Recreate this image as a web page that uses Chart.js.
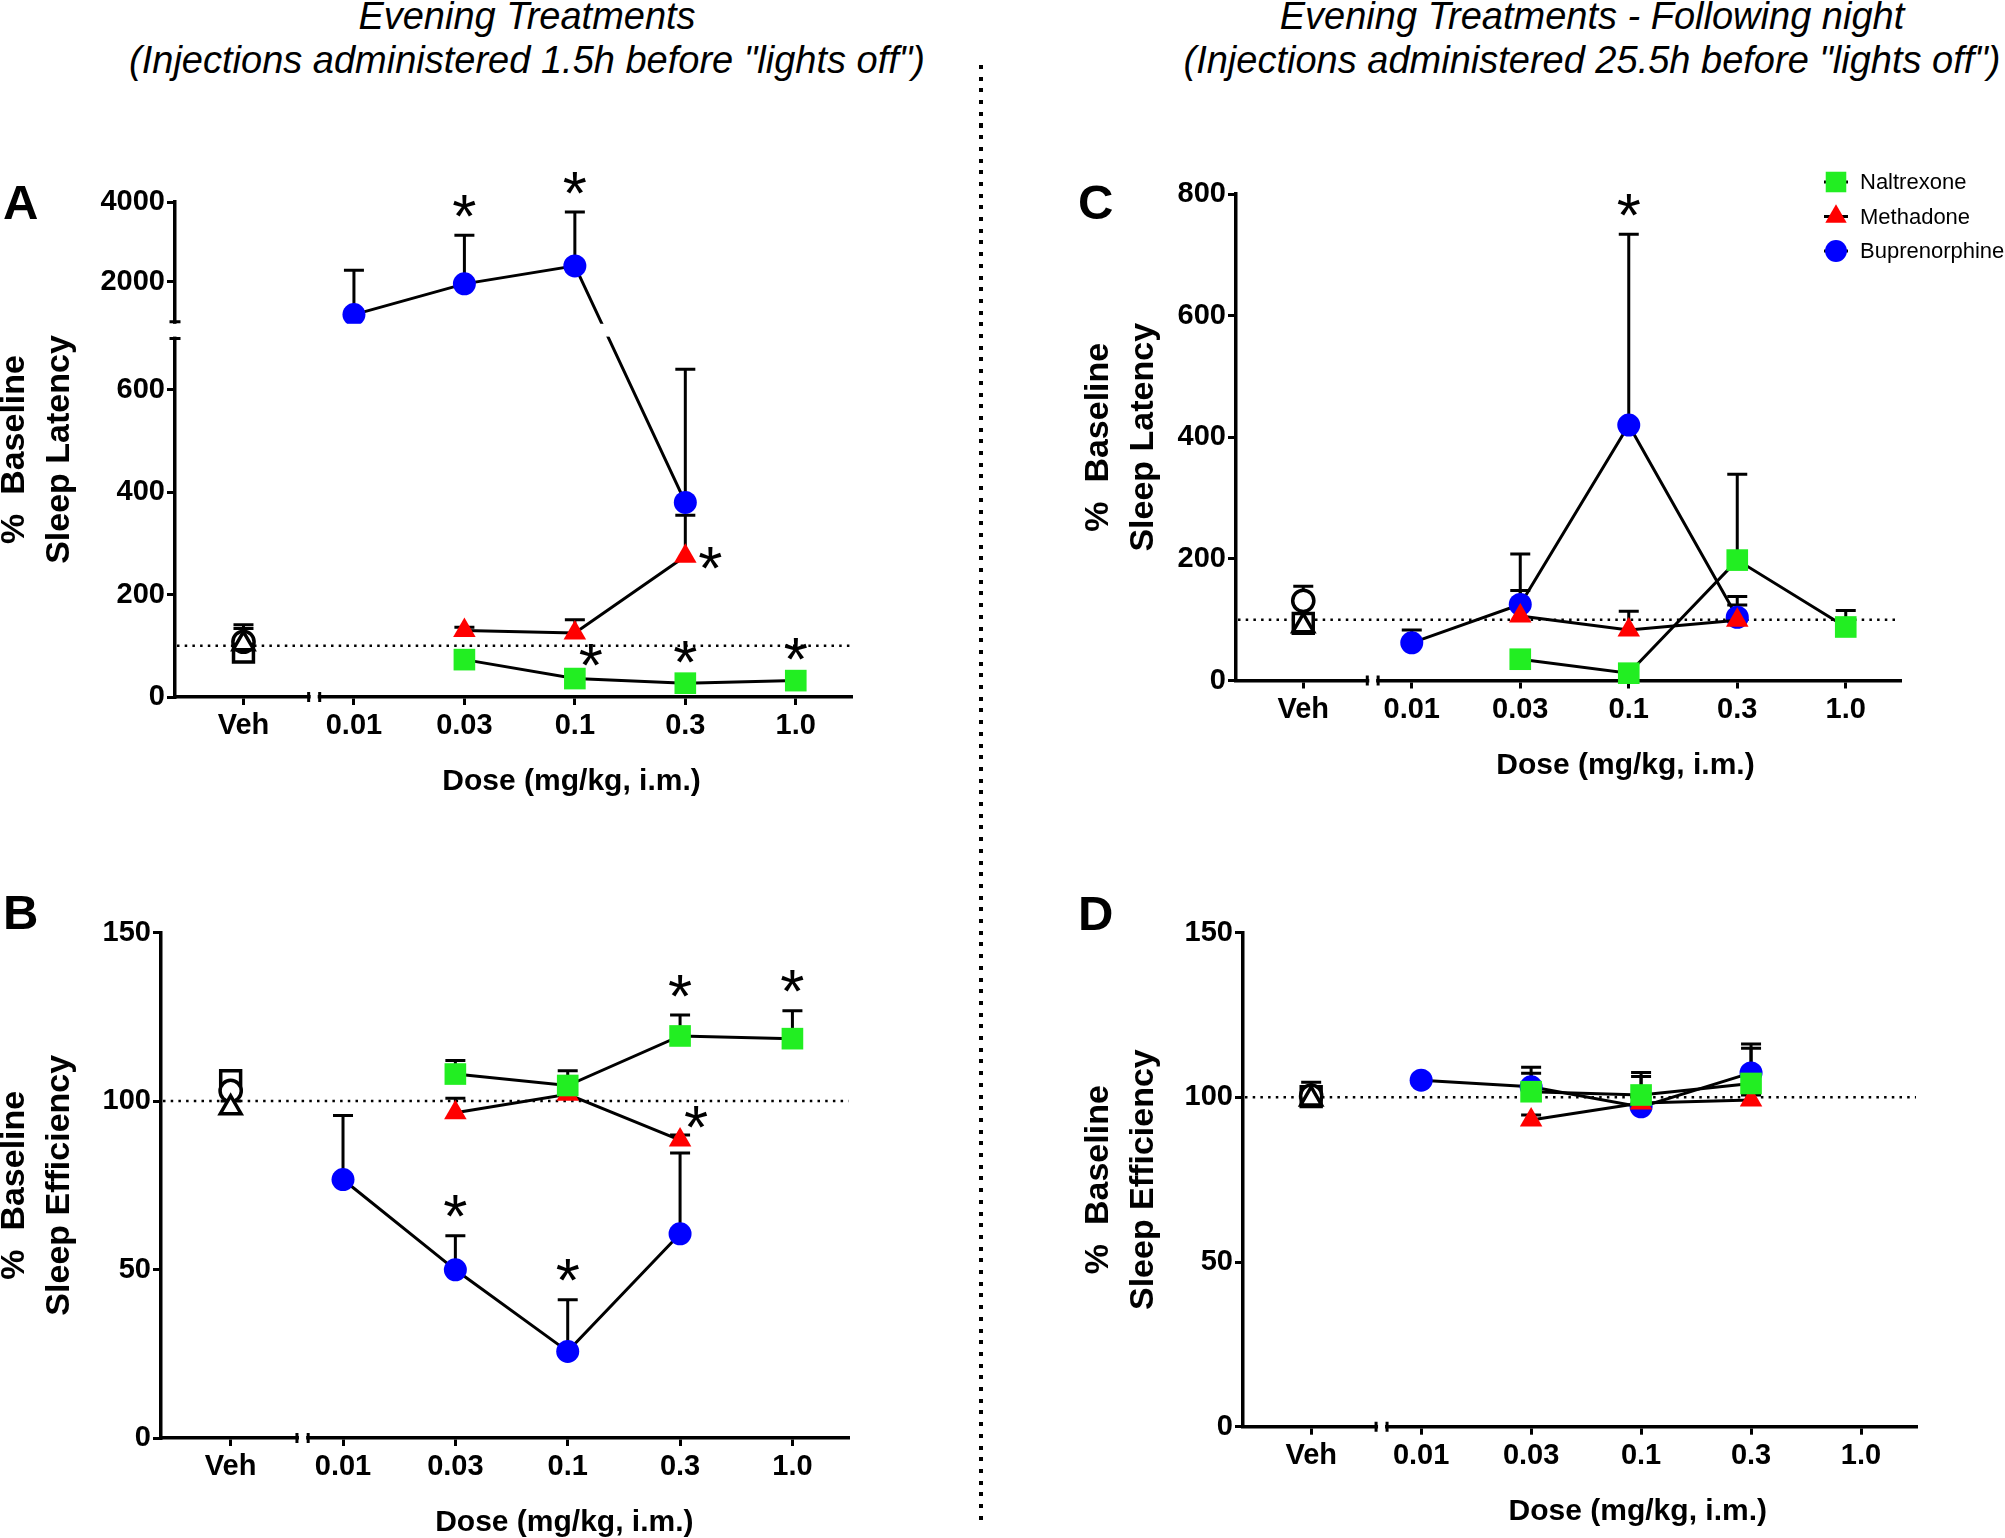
<!DOCTYPE html>
<html>
<head>
<meta charset="utf-8">
<script src="https://cdn.jsdelivr.net/npm/chart.js@4.4.1/dist/chart.umd.min.js"></script>
<style>
html, body { margin: 0; padding: 0; background: #fff; }
#page { position: relative; width: 2005px; height: 1538px; overflow: hidden; background: #fff;
        font-family: "Liberation Sans", Arial, sans-serif; color: #000; }
canvas { position: absolute; }
.head { position: absolute; font-style: italic; font-size: 38px; line-height: 38px; white-space: nowrap; transform: translateX(-50%); }
.letter { position: absolute; font-weight: bold; font-size: 49px; line-height: 49px; }
#divider { position: absolute; left: 979px; top: 65px; width: 4px; height: 1462px;
           background: repeating-linear-gradient(to bottom, #000 0 4px, transparent 4px 11.7px); }
</style>
</head>
<body>
<div id="page">
  <div class="head" style="left:527px; top:-3px;">Evening Treatments</div>
  <div class="head" style="left:527px; top:41px;">(Injections administered 1.5h before "lights off")</div>
  <div class="head" style="left:1592px; top:-3px;">Evening Treatments - Following night</div>
  <div class="head" style="left:1592px; top:41px;">(Injections administered 25.5h before "lights off")</div>
  <div id="divider"></div>

  <canvas id="chartA" width="990" height="720" style="left:-10px; top:100px;"></canvas>
  <canvas id="chartB" width="990" height="708" style="left:-10px; top:830px;"></canvas>
  <canvas id="chartC" width="931" height="720" style="left:1074px; top:100px;"></canvas>
  <canvas id="chartD" width="931" height="708" style="left:1074px; top:830px;"></canvas>

  <div class="letter" style="left:3px; top:178px;">A</div>
  <div class="letter" style="left:3px; top:888px;">B</div>
  <div class="letter" style="left:1078px; top:178px;">C</div>
  <div class="letter" style="left:1078px; top:889px;">D</div>
</div>

<script>
// x categories (Veh + doses in mg/kg)
const doseLabels = ['Veh', '0.01', '0.03', '0.1', '0.3', '1.0'];
const drugNames = ['Naltrexone', 'Methadone', 'Buprenorphine'];

// A: % baseline sleep latency, evening treatments
const latA_nal = [null, null, 73, 36, 27, 32];
const latA_nalSem = [null, null, 5, 4, 4, 4];
const latA_met = [null, null, 130, 125, 275, null];
const latA_metSem = [null, null, 6, 26, 80, null];
const latA_bup = [null, 1180, 1950, 2400, 380, null];
const latA_bupSem = [null, 1110, 1220, 1350, 260, null];
const latA_veh = [88, 104, 108];        // naltrexone, methadone, buprenorphine vehicles
const latA_vehSem = [12, 30, 33];
const latA_ticks = [0, 200, 400, 600, 2000, 4000];

// B: % baseline sleep efficiency, evening treatments
const effB_nal = [null, null, 108, 104.6, 119.3, 118.5];
const effB_nalSem = [null, null, 4, 4.4, 6.2, 8.3];
const effB_met = [null, null, 96.5, 102, 88.4, null];
const effB_metSem = [null, null, 4.3, 1.5, 1.5, null];
const effB_bup = [null, 76.7, 49.9, 25.7, 60.6, null];
const effB_bupSem = [null, 19, 10.1, 15.3, 24, null];
const effB_veh = [106, 98, 103];
const effB_vehSem = [2, 2, 2];

// C: % baseline sleep latency, following night
const latC_nal = [null, null, 35, 12, 198, 88];
const latC_nalSem = [null, null, 3, 3, 141, 27];
const latC_met = [null, null, 106, 83, 99, null];
const latC_metSem = [null, null, 42, 31, 25, null];
const latC_bup = [null, 62, 125, 420, 104, null];
const latC_bupSem = [null, 21, 83, 314, 34, null];
const latC_veh = [94, 90, 131];
const latC_vehSem = [6, 8, 24];
const latC_ticks = [0, 200, 400, 600, 800];

// D: % baseline sleep efficiency, following night
const effD_nal = [null, null, 101.7, 100.7, 104.2, null];
const effD_nalSem = [null, null, 5.6, 5.6, 10.7, null];
const effD_met = [null, null, 93.1, 98.3, 99.2, null];
const effD_metSem = [null, null, 1.5, 1.5, 1.5, null];
const effD_bup = [null, 105.2, 103.2, 97.1, 107.4, null];
const effD_bupSem = [null, 1, 5.9, 10.4, 8.8, null];
const effD_veh = [100.2, 99.5, 100.5];
const effD_vehSem = [4.4, 2, 2];
const eff_ticks = [0, 50, 100, 150];

// significance stars: [drug index, dose index, placement]
const sigA = [[2, 2, 'above'], [2, 3, 'above'], [1, 4, 'right'], [0, 3, 'upright'], [0, 4, 'above'], [0, 5, 'above']];
const sigB = [[2, 2, 'above'], [2, 3, 'above'], [0, 4, 'above'], [0, 5, 'above'], [1, 4, 'upright']];
const sigC = [[2, 3, 'above']];
const sigD = [];

const FONT = "'Liberation Sans', Arial, sans-serif";
const drugStyle = [
    { color: '#22ee22', pointStyle: 'rect', radius: 15.3 },
    { color: '#ff0000', pointStyle: 'triangle', radius: 13 },
    { color: '#0000ff', pointStyle: 'circle', radius: 11.5 }
];

// y axis with a gap (used by panel A)
class BrokenScale extends Chart.LinearScale {
    static id = 'broken';
    _seg() {
        const b = this.options.brk;
        const h = this.bottom - this.top;
        const lowH = h * b.lowFrac, gapH = h * b.gapFrac;
        return { b, lowH, gapH, highH: h - lowH - gapH };
    }
    getPixelForValue(value) {
        const { b, lowH, gapH, highH } = this._seg();
        if (value <= b.lowMax) return this.bottom - (value - this.min) / (b.lowMax - this.min) * lowH;
        if (value >= b.highMin) return this.top + (this.max - value) / (this.max - b.highMin) * highH;
        return this.bottom - lowH - (value - b.lowMax) / (b.highMin - b.lowMax) * gapH;
    }
    getValueForPixel(pixel) {
        const { b, lowH, gapH, highH } = this._seg();
        const yLow = this.bottom - lowH, yHigh = this.top + highH;
        if (pixel >= yLow) return this.min + (this.bottom - pixel) / lowH * (b.lowMax - this.min);
        if (pixel <= yHigh) return this.max - (pixel - this.top) / highH * (this.max - b.highMin);
        return b.lowMax + (yLow - pixel) / gapH * (b.highMin - b.lowMax);
    }
}
Chart.register(BrokenScale);

const panelExtras = {
    id: 'panelExtras',
    beforeDatasetsDraw(chart, args, o) {
        const { ctx, chartArea: ca, scales: { x, y } } = chart;
        // dotted 100% baseline
        ctx.save();
        ctx.strokeStyle = '#000';
        ctx.lineWidth = 2.5;
        ctx.setLineDash([2.5, 5.2]);
        const py = y.getPixelForValue(100);
        ctx.beginPath();
        ctx.moveTo(ca.left + 2, py);
        ctx.lineTo(ca.right, py);
        ctx.stroke();
        ctx.restore();

        // SEM bars (upper only)
        ctx.save();
        ctx.strokeStyle = '#000';
        ctx.lineWidth = 3;
        chart.data.datasets.forEach(ds => {
            ds.data.forEach(pt => {
                if (pt.sem == null) return;
                const px = x.getPixelForValue(pt.x);
                const p0 = y.getPixelForValue(pt.y);
                const p1 = y.getPixelForValue(pt.y + pt.sem);
                ctx.beginPath();
                ctx.moveTo(px, p0);
                ctx.lineTo(px, p1);
                ctx.moveTo(px - 10, p1);
                ctx.lineTo(px + 10, p1);
                ctx.stroke();
            });
        });
        ctx.restore();
    },
    afterDatasetsDraw(chart, args, o) {
        const { ctx, chartArea: ca, scales: { x, y } } = chart;
        ctx.save();
        ctx.strokeStyle = '#000';
        ctx.lineWidth = 3;

        // x axis break between Veh and doses
        const xb1 = x.getPixelForValue(o.xBreak[0]);
        const xb2 = x.getPixelForValue(o.xBreak[1]);
        ctx.fillStyle = '#fff';
        ctx.fillRect(xb1 + 2, ca.bottom - 6, xb2 - xb1 - 4, 12);
        ctx.beginPath();
        [xb1, xb2].forEach(bx => {
            ctx.moveTo(bx, ca.bottom - 5);
            ctx.lineTo(bx, ca.bottom + 5);
        });
        ctx.stroke();

        // y axis break
        if (o.yBreak) {
            const pLo = y.getPixelForValue(o.yBreak[0]);
            const pHi = y.getPixelForValue(o.yBreak[1]);
            ctx.fillStyle = '#fff';
            ctx.fillRect(ca.left - 8, pHi + 2, ca.right - ca.left + 16, pLo - pHi - 4);
            ctx.beginPath();
            [pLo, pHi].forEach(by => {
                ctx.moveTo(ca.left - 5.5, by);
                ctx.lineTo(ca.left + 5.5, by);
            });
            ctx.stroke();
        }

        // significance stars
        const starSize = 62;
        ctx.fillStyle = '#000';
        ctx.font = starSize + 'px ' + FONT;
        ctx.textAlign = 'center';
        ctx.textBaseline = 'alphabetic';
        o.sig.forEach(([di, xi, place]) => {
            const pt = chart.data.datasets[di].data.find(p => p.x === xi);
            if (!pt) return;
            const px = x.getPixelForValue(pt.x);
            const py = y.getPixelForValue(pt.y);
            const pTop = y.getPixelForValue(pt.y + (pt.sem || 0));
            let cx = px, cy;
            if (place === 'above') cy = Math.min(py, pTop) - 34;
            else if (place === 'right') { cx = px + 25; cy = py - 3; }
            else { cx = px + 16; cy = py - 28; }
            ctx.fillText('*', cx, cy + 0.575 * starSize);
        });

        // x axis title
        ctx.font = 'bold 30px ' + FONT;
        ctx.textBaseline = 'middle';
        ctx.fillText('Dose (mg/kg, i.m.)', x.getPixelForValue(2.97), ca.bottom + 85);

        // legend
        if (o.legend) {
            const lx = ca.right - 64;
            let ly = ca.top - 12;
            ctx.font = '22px ' + FONT;
            ctx.textAlign = 'left';
            drugNames.forEach((name, i) => {
                const st = drugStyle[i];
                ctx.beginPath();
                ctx.moveTo(lx - 12, ly);
                ctx.lineTo(lx + 12, ly);
                ctx.stroke();
                ctx.fillStyle = st.color;
                Chart.helpers.drawPoint(ctx, { pointStyle: st.pointStyle, radius: st.radius * 0.95, rotation: 0, borderWidth: 0 }, lx, ly);
                ctx.fillStyle = '#000';
                ctx.fillText(name, lx + 24, ly + 1);
                ly += 34.5;
            });
        }
        ctx.restore();
    }
};

const withSem = (vals, sem) => vals
    .map((v, i) => (v == null ? null : { x: i, y: v, sem: sem[i] }))
    .filter(p => p !== null);

function buildPanel(id, p) {
    const drugSets = p.series.map((s, i) => ({
        label: drugNames[i],
        data: withSem(s[0], s[1]),
        borderColor: '#000',
        borderWidth: 3,
        tension: 0,
        pointStyle: drugStyle[i].pointStyle,
        pointRadius: drugStyle[i].radius,
        pointBackgroundColor: drugStyle[i].color,
        pointBorderWidth: 0,
        clip: false
    }));
    // vehicle points: methadone on top, then buprenorphine, then naltrexone
    const vehSets = [1, 2, 0].map(i => ({
        label: drugNames[i] + ' vehicle',
        data: [{ x: 0, y: p.veh[i], sem: p.vehSem[i] }],
        showLine: false,
        pointStyle: drugStyle[i].pointStyle,
        pointRadius: drugStyle[i].radius * 0.92,
        pointBackgroundColor: '#fff',
        pointBorderColor: '#000',
        pointBorderWidth: 3.5,
        clip: false
    }));

    const tickFont = { family: FONT, weight: 'bold', size: 29 };
    const yScale = {
        type: p.yType || 'linear',
        min: p.yMin,
        max: p.yMax,
        afterBuildTicks: s => { s.ticks = p.yTicks.map(v => ({ value: v })); },
        afterFit: s => { s.width = p.area.left - p.box.left; },
        grid: { drawOnChartArea: false, drawTicks: true, tickLength: 8, color: '#000', lineWidth: 3 },
        border: { display: true, color: '#000', width: 3.5 },
        ticks: { autoSkip: false, padding: 2, color: '#000', font: tickFont, callback: v => String(v) },
        title: {
            display: true,
            text: ['%  Baseline', p.yTitle],
            color: '#000',
            font: { family: FONT, weight: 'bold', size: 34, lineHeight: 1.3 },
            padding: { top: 3, bottom: 0 }
        }
    };
    if (p.brk) yScale.brk = p.brk;

    new Chart(document.getElementById(id), {
        type: 'line',
        data: { datasets: drugSets.concat(vehSets) },
        options: {
            responsive: false,
            animation: false,
            events: [],
            layout: {
                padding: {
                    left: 0,
                    top: p.area.top - p.box.top,
                    right: p.box.left + p.box.w - p.area.right,
                    bottom: 0
                }
            },
            plugins: {
                legend: { display: false },
                tooltip: { enabled: false },
                panelExtras: { xBreak: [0.59, 0.69], yBreak: p.yBreak, sig: p.sig, legend: !!p.legend }
            },
            scales: {
                x: {
                    type: 'linear',
                    min: -0.62,
                    max: 5.5,
                    afterBuildTicks: s => { s.ticks = doseLabels.map((_, i) => ({ value: i })); },
                    afterFit: s => { s.height = p.box.top + p.box.h - p.area.bottom; },
                    grid: { drawOnChartArea: false, drawTicks: true, tickLength: 8, color: '#000', lineWidth: 3 },
                    border: { display: true, color: '#000', width: 3.5 },
                    ticks: { autoSkip: false, maxRotation: 0, padding: 4, color: '#000', font: tickFont,
                             callback: v => doseLabels[v] }
                },
                y: yScale
            }
        },
        plugins: [panelExtras]
    });
}

buildPanel('chartA', {
    box: { left: -10, top: 100, w: 990, h: 720 },
    area: { left: 175, top: 202, right: 851, bottom: 697 },
    yType: 'broken', yMin: 0, yMax: 4000, yTicks: latA_ticks,
    brk: { lowMax: 700, highMin: 1000, lowFrac: 0.724, gapFrac: 0.034 },
    yBreak: [700, 1000],
    yTitle: 'Sleep Latency',
    series: [[latA_nal, latA_nalSem], [latA_met, latA_metSem], [latA_bup, latA_bupSem]],
    veh: latA_veh, vehSem: latA_vehSem, sig: sigA
});

buildPanel('chartB', {
    box: { left: -10, top: 830, w: 990, h: 708 },
    area: { left: 161, top: 932.5, right: 848.6, bottom: 1438 },
    yMin: 0, yMax: 150, yTicks: eff_ticks,
    yTitle: 'Sleep Efficiency',
    series: [[effB_nal, effB_nalSem], [effB_met, effB_metSem], [effB_bup, effB_bupSem]],
    veh: effB_veh, vehSem: effB_vehSem, sig: sigB
});

buildPanel('chartC', {
    box: { left: 1074, top: 100, w: 931, h: 720 },
    area: { left: 1236, top: 194, right: 1900, bottom: 680.5 },
    yMin: 0, yMax: 800, yTicks: latC_ticks,
    yTitle: 'Sleep Latency',
    series: [[latC_nal, latC_nalSem], [latC_met, latC_metSem], [latC_bup, latC_bupSem]],
    veh: latC_veh, vehSem: latC_vehSem, sig: sigC, legend: true
});

buildPanel('chartD', {
    box: { left: 1074, top: 830, w: 931, h: 708 },
    area: { left: 1243, top: 932.6, right: 1916, bottom: 1426.7 },
    yMin: 0, yMax: 150, yTicks: eff_ticks,
    yTitle: 'Sleep Efficiency',
    series: [[effD_nal, effD_nalSem], [effD_met, effD_metSem], [effD_bup, effD_bupSem]],
    veh: effD_veh, vehSem: effD_vehSem, sig: sigD
});
</script>
</body>
</html>
